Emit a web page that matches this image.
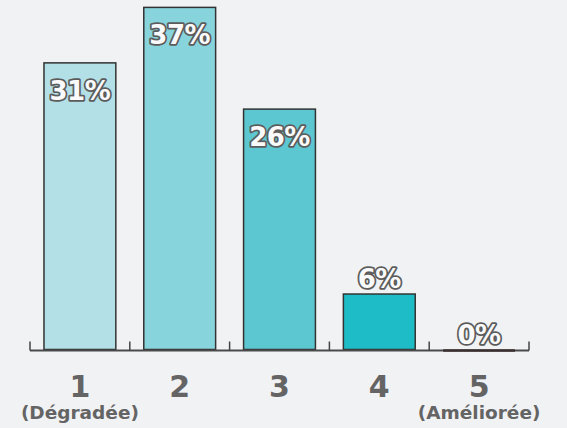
<!DOCTYPE html>
<html>
<head>
<meta charset="utf-8">
<script src="https://cdn.jsdelivr.net/npm/d3@7"></script>
<style>
  body { margin: 0; background: #f1f2f4; }
  svg { display: block; }
</style>
</head>
<body>
<div id="chart"></div>
<script>
let categories = ['1', '2', '3', '4', '5']
let subLabels = ['(Dégradée)', '', '', '', '(Améliorée)']
let values = [31, 37, 26, 6, 0]
let colors = ['#b3e0e6', '#88d4dc', '#5cc7d0', '#1dbcc6', '#1dbcc6']

let width = 567
let height = 428
let margin = { top: 0, left: 30, right: 38, bottom: 78 }
let font = "'DejaVu Sans', sans-serif"

let svg = d3
  .select('#chart')
  .append('svg')
  .attr('width', width)
  .attr('height', height)

let x = d3
  .scaleBand()
  .domain(categories)
  .range([margin.left, width - margin.right])
  .paddingInner(0.28)
  .paddingOuter(0.14)

let y = d3
  .scaleLinear()
  .domain([0, 37.8])
  .range([height - margin.bottom - 0.5, 0])

let base = y(0)

// bars
svg
  .selectAll('.bar')
  .data(values)
  .enter()
  .append('rect')
  .attr('class', 'bar')
  .attr('x', (d, i) => x(categories[i]))
  .attr('y', d => y(d))
  .attr('width', x.bandwidth())
  .attr('height', d => base - y(d))
  .attr('fill', (d, i) => colors[i])
  .attr('stroke', '#333')
  .attr('stroke-width', 1.5)

// axis line + ticks at band edges
let step = x.step()
let edges = d3.range(categories.length + 1).map(i => margin.left + i * step)

svg
  .append('line')
  .attr('x1', edges[0])
  .attr('x2', edges[edges.length - 1])
  .attr('y1', base + 1)
  .attr('y2', base + 1)
  .attr('stroke', '#4a4a4a')
  .attr('stroke-width', 2)

// zero bar shows as a dark stroke on the axis
svg
  .selectAll('.zero')
  .data(values.filter(d => d === 0))
  .enter()
  .append('line')
  .attr('class', 'zero')
  .attr('x1', x('5'))
  .attr('x2', x('5') + x.bandwidth())
  .attr('y1', base + 1)
  .attr('y2', base + 1)
  .attr('stroke', '#3a2e2e')
  .attr('stroke-width', 2.5)

svg
  .selectAll('.tick')
  .data(edges)
  .enter()
  .append('line')
  .attr('class', 'tick')
  .attr('x1', d => d)
  .attr('x2', d => d)
  .attr('y1', base - 8)
  .attr('y2', base + 1)
  .attr('stroke', '#444')
  .attr('stroke-width', 1.5)

// value labels
svg
  .selectAll('.value')
  .data(values)
  .enter()
  .append('text')
  .attr('class', 'value')
  .attr('x', (d, i) => x(categories[i]) + x.bandwidth() / 2)
  .attr('y', d => (d > 15 ? y(d) + 37 : y(d) - 6))
  .attr('text-anchor', 'middle')
  .attr('font-family', font)
  .attr('font-weight', 'bold')
  .attr('font-size', 26)
  .attr('letter-spacing', -0.5)
  .attr('fill', '#fafafa')
  .attr('stroke', '#5c5c5c')
  .attr('stroke-width', 3.5)
  .attr('paint-order', 'stroke')
  .attr('stroke-linejoin', 'round')
  .text(d => d + '%')

// category labels
svg
  .selectAll('.cat')
  .data(categories)
  .enter()
  .append('text')
  .attr('class', 'cat')
  .attr('x', d => x(d) + x.bandwidth() / 2)
  .attr('y', base + 47)
  .attr('text-anchor', 'middle')
  .attr('font-family', font)
  .attr('font-weight', 'bold')
  .attr('font-size', 30)
  .attr('fill', '#646464')
  .text(d => d)

svg
  .selectAll('.sub')
  .data(subLabels)
  .enter()
  .append('text')
  .attr('class', 'sub')
  .attr('x', (d, i) => x(categories[i]) + x.bandwidth() / 2)
  .attr('y', base + 69)
  .attr('text-anchor', 'middle')
  .attr('font-family', font)
  .attr('font-weight', 'bold')
  .attr('font-size', 18.5)
  .attr('fill', '#646464')
  .text(d => d)
</script>
</body>
</html>
